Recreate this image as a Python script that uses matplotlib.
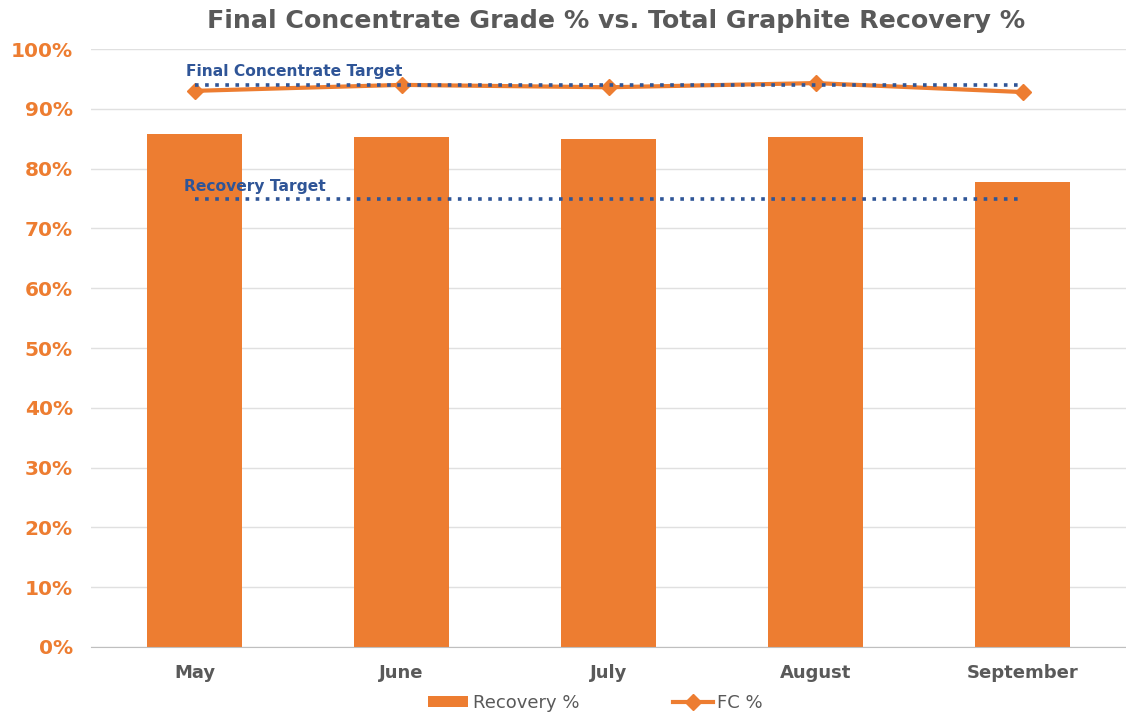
import numpy as np
import matplotlib.pyplot as plt
from matplotlib.lines import Line2D
from matplotlib.patches import Patch
from matplotlib.ticker import PercentFormatter

months = ["May", "June", "July", "August", "September"]
recovery = [85.8, 85.3, 84.9, 85.3, 77.8]
fc = [93.0, 94.0, 93.6, 94.3, 92.8]
fc_target = 94.0
recovery_target = 75.0

orange = "#ED7D31"
blue = "#2F5597"
gray = "#595959"

fig = plt.figure(figsize=(11.26, 7.15), dpi=100)
ax = fig.add_axes([91 / 1126, 68 / 715, 1035 / 1126, 598 / 715])

x = np.arange(len(months))
ax.bar(x, recovery, width=0.46, color=orange, zorder=2)
ax.plot(x, fc, color=orange, lw=3, marker="D", ms=8, zorder=4)
ax.plot(x, [fc_target] * len(x), color=blue, ls=(0, (1, 1.8)), lw=2.6, zorder=5)
ax.plot(x, [recovery_target] * len(x), color=blue, ls=(0, (1, 1.8)), lw=2.6, zorder=5)

ax.text(-0.04, 96.2, "Final Concentrate Target", color=blue, fontsize=11.2,
        fontweight="bold", va="center", ha="left")
ax.text(-0.05, 77.0, "Recovery Target", color=blue, fontsize=11.2,
        fontweight="bold", va="center", ha="left")

ax.set_xlim(-0.5, 4.5)
ax.set_ylim(0, 100)
ax.set_yticks(np.arange(0, 101, 10))
ax.yaxis.set_major_formatter(PercentFormatter(decimals=0))
ax.set_xticks(x)
ax.set_xticklabels(months)
ax.grid(axis="y", color="#E0E0E0", lw=1.0, zorder=0)
ax.set_axisbelow(True)
for s in ["top", "right", "left"]:
    ax.spines[s].set_visible(False)
ax.spines["bottom"].set_color("#BFBFBF")
ax.tick_params(axis="both", length=0)
ax.tick_params(axis="y", pad=13)
ax.tick_params(axis="x", pad=12)
for lab in ax.get_yticklabels():
    lab.set_color(orange)
    lab.set_fontweight("bold")
    lab.set_fontsize(14.5)
for lab in ax.get_xticklabels():
    lab.set_color(gray)
    lab.set_fontweight("bold")
    lab.set_fontsize(13)

fig.text(0.547, 0.97, "Final Concentrate Grade % vs. Total Graphite Recovery %",
         ha="center", va="center", fontsize=18.2, fontweight="bold", color=gray)

handles = [Patch(facecolor=orange, label="Recovery %"),
           Line2D([0], [0], color=orange, lw=3, marker="D", ms=8, label="FC %")]
leg = fig.legend(handles=handles, loc="center", bbox_to_anchor=(0.529, 0.017),
                 ncol=2, frameon=False, fontsize=13, columnspacing=5.2,
                 handlelength=2.2, handleheight=0.6, handletextpad=0.25)
for t in leg.get_texts():
    t.set_color(gray)

fig.savefig("out.png", dpi=100)
